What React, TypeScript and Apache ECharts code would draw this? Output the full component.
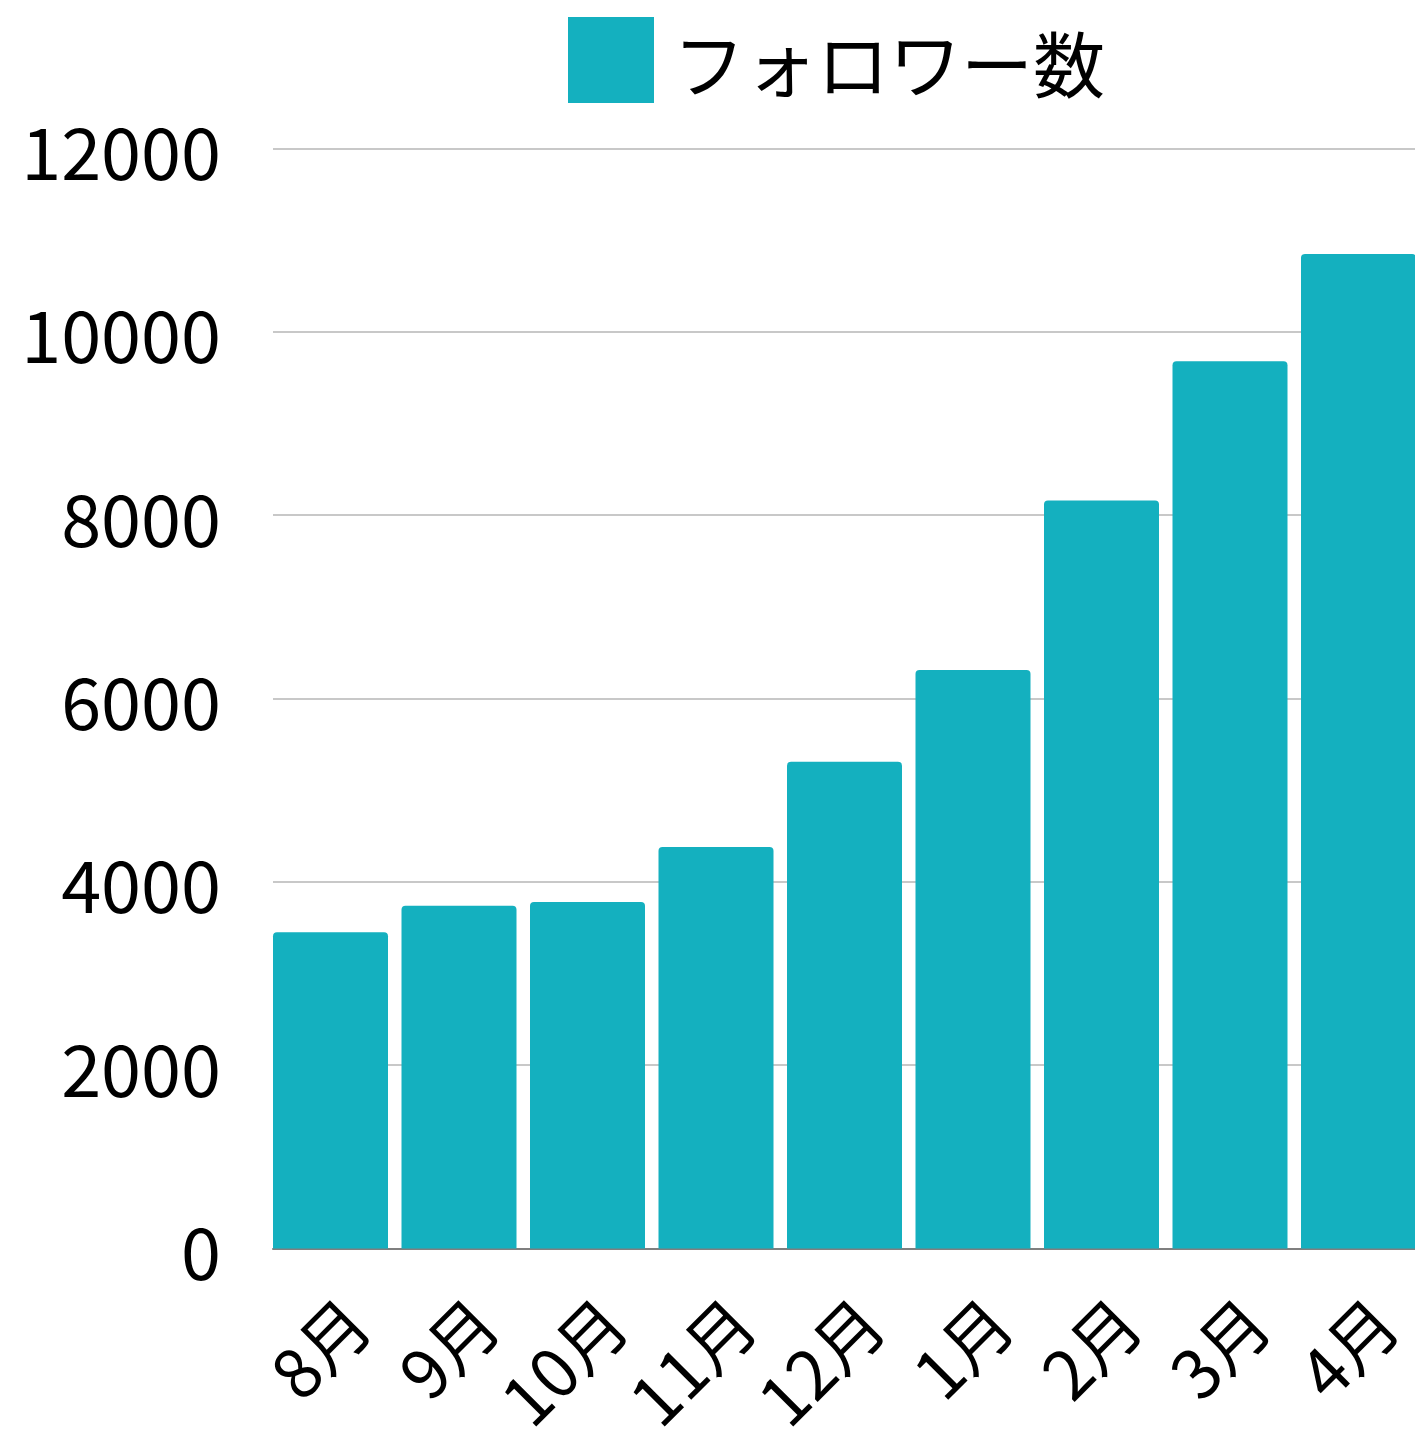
import React, { useEffect, useRef } from "react";
import * as echarts from "echarts";

const months = ["8月", "9月", "10月", "11月", "12月", "1月", "2月", "3月", "4月"];
const followers = [3450, 3740, 3780, 4380, 5310, 6310, 8160, 9680, 10850];
const yTicks = { min: 0, max: 12000, interval: 2000 };
const seriesName = "フォロワー数";

const FONT = "'Noto Sans CJK JP', 'Noto Sans', sans-serif";
const TEAL = "#14B0BF";

export default function App() {
  const ref = useRef<HTMLDivElement>(null);
  useEffect(() => {
    document.body.style.margin = "0";
    if (!ref.current) return;
    const chart = echarts.init(ref.current, undefined, { renderer: "svg" });
    // layout: bar width 115px, category step 128.5px, grid 273..1415
    const halfBar = 115 / 2 / 128.5;
    const xMin = -halfBar;
    const xMax = xMin + (1415 - 273) / 128.5;
    const labelShift = 25 / 128.5;
    const idx = months.map((_, i) => i);
    chart.setOption({
      animation: false,
      textStyle: { fontFamily: FONT },
      legend: {
        left: 568,
        top: 17,
        padding: 0,
        itemWidth: 86,
        itemHeight: 86,
        icon: "rect",
        textStyle: { fontSize: 72, color: "#000", fontFamily: FONT, padding: [0, 0, 10, 14] },
        data: [seriesName],
      },
      grid: {
        left: 273,
        right: 0,
        top: 148.5,
        bottom: 1434 - 1248.5,
        containLabel: false,
        outerBoundsMode: "none",
      },
      xAxis: [
        {
          type: "value",
          position: "bottom",
          min: xMin,
          max: xMax,
          axisLine: { show: true, onZero: false, lineStyle: { color: "#7f7f7f", width: 2 } },
          axisTick: { show: false },
          axisLabel: { show: false },
          splitLine: { show: false },
        },
        {
          type: "value",
          position: "bottom",
          offset: 0,
          min: xMin - labelShift,
          max: xMax - labelShift,
          axisLine: { show: false },
          axisTick: { show: false },
          splitLine: { show: false },
          axisLabel: {
            show: true,
            customValues: idx,
            formatter: (v: number) => months[Math.round(v)] ?? "",
            rotate: 45,
            margin: 60,
            fontSize: 68,
            color: "#000",
            fontFamily: FONT,
          },
        },
      ],
      yAxis: {
        type: "value",
        min: yTicks.min,
        max: yTicks.max,
        interval: yTicks.interval,
        axisLine: { show: false },
        axisTick: { show: false },
        axisLabel: {
          fontSize: 72,
          color: "#000",
          margin: 52,
          padding: [0, 0, 8, 0],
          fontFamily: FONT,
          formatter: (v: number) => String(v),
        },
        splitLine: { lineStyle: { color: "#c8c8c8", width: 2 } },
      },
      series: [
        {
          name: seriesName,
          type: "bar",
          xAxisIndex: 0,
          barWidth: 115,
          itemStyle: { color: TEAL, borderRadius: [4, 4, 0, 0] },
          data: followers.map((v, i) => [i, v]),
        },
      ],
    });
    return () => chart.dispose();
  }, []);
  return <div ref={ref} style={{ width: 1415, height: 1434 }} />;
}
